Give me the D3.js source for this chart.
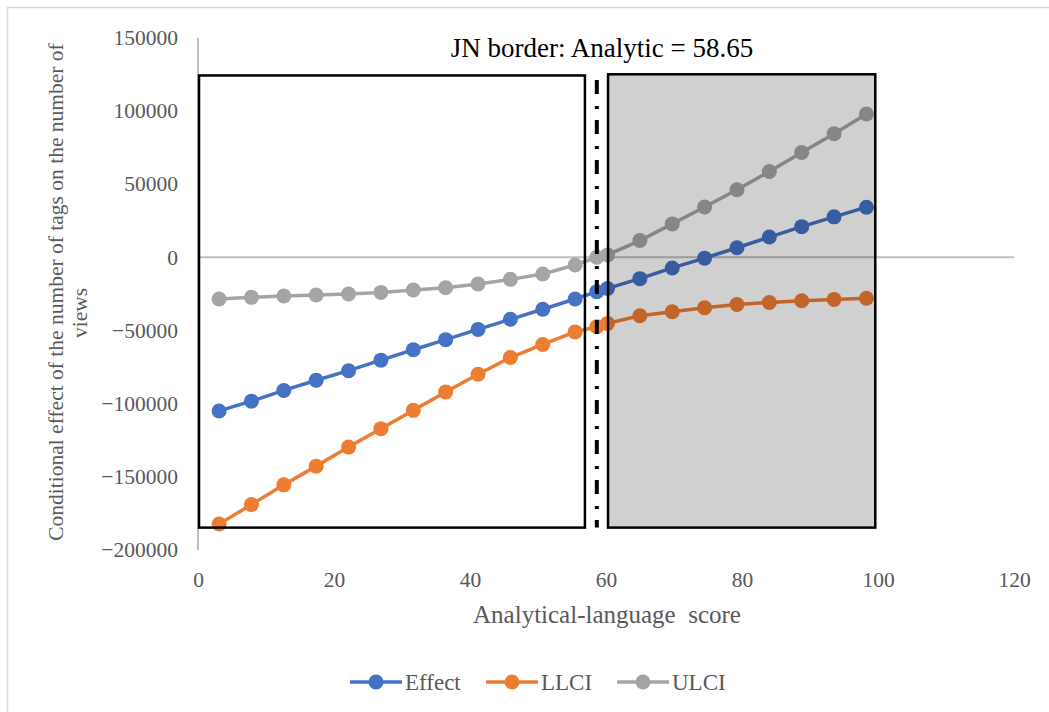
<!DOCTYPE html>
<html lang="en">
<head>
<meta charset="utf-8">
<title>JN border chart</title>
<script src="https://cdn.jsdelivr.net/npm/d3@7"></script>
<style>
  body { margin: 0; background: #fff; }
  svg text { font-family: "Liberation Serif", "DejaVu Serif", serif; }
</style>
</head>
<body>
<script>
  var w = 1049;
  var h = 712;

  // analytical-language score (x) for each estimate, JN point included
  var scores = [3.10, 7.86, 12.62, 17.38, 22.14, 26.90, 31.66, 36.42, 41.18, 45.94, 50.70, 55.46,
                58.65, 60.22, 64.98, 69.74, 74.50, 79.26, 84.02, 88.78, 93.54, 98.30];
  var effect = [-105000, -98300, -91000, -84000, -77500, -70300, -63200, -56300, -49300, -42400, -35500, -28500,
                -23500, -21300, -14600, -7300, -600, 6500, 13800, 20900, 27600, 34200];
  var llci = [-182200, -169000, -155500, -142700, -129700, -117100, -104600, -92000, -79900, -68500, -59600, -51000,
              -47500, -45200, -40000, -37200, -34500, -32300, -30900, -29700, -28800, -28000];
  var ulci = [-28500, -27400, -26500, -25800, -25100, -24000, -22400, -20800, -18300, -15100, -11400, -5300,
              0, 1600, 11400, 22800, 34300, 46100, 58600, 71600, 84400, 97900];

  var seriesNames = ["Effect", "LLCI", "ULCI"];
  var seriesColors = ["#4472C4", "#ED7D31", "#A5A5A5"];

  var xTicks = [0, 20, 40, 60, 80, 100, 120];
  var yTicks = [-200000, -150000, -100000, -50000, 0, 50000, 100000, 150000];

  var jnValue = 58.65;
  // hand-drawn boxes either side of the JN border (data units)
  var leftBox = { x0: 0.15, x1: 56.9, y0: -184700, y1: 124200 };
  var rightBox = { x0: 60.3, x1: 99.6, y0: -184700, y1: 125000 };
  var jnSpan = [-184700, 121100];

  var serif = "Liberation Serif";

  var svg = d3.select("body").append("svg")
      .attr("width", w)
      .attr("height", h);

  svg.append("rect")
     .attr("width", w).attr("height", h)
     .attr("fill", "#fff");

  // outer chart frame
  svg.append("rect")
     .attr("x", 7.5).attr("y", 7.5)
     .attr("width", 1100).attr("height", 800)
     .attr("fill", "none")
     .attr("stroke", "#d9d9d9")
     .attr("stroke-width", 1.5);

  var x = d3.scaleLinear().domain([0, 120]).range([198, 1014]);
  var y = d3.scaleLinear().domain([-200000, 150000]).range([550, 37.7]);

  // axes: labels only, lines drawn by hand like Excel
  var yAxis = svg.append("g")
      .attr("transform", "translate(198,0)")
      .call(d3.axisLeft(y).tickValues(yTicks).tickSize(0).tickPadding(20).tickFormat(d3.format("d")))
      .attr("font-family", serif)
      .attr("font-size", 21.5);
  yAxis.select(".domain").remove();
  yAxis.selectAll("text").attr("fill", "#595959");

  var xAxis = svg.append("g")
      .attr("transform", "translate(0,550)")
      .call(d3.axisBottom(x).tickValues(xTicks).tickSize(0).tickPadding(22))
      .attr("font-family", serif)
      .attr("font-size", 21.5);
  xAxis.select(".domain").remove();
  xAxis.selectAll("text").attr("fill", "#595959");

  svg.append("line")
     .attr("x1", x(0)).attr("x2", x(0))
     .attr("y1", y(150000)).attr("y2", y(-200000))
     .attr("stroke", "#bfbfbf").attr("stroke-width", 2);

  svg.append("line")
     .attr("x1", x(0)).attr("x2", x(120))
     .attr("y1", y(0)).attr("y2", y(0))
     .attr("stroke", "#bfbfbf").attr("stroke-width", 2);

  // series
  var allSeries = [effect, llci, ulci];
  var line = d3.line()
      .x(function(d) { return x(d[0]); })
      .y(function(d) { return y(d[1]); });

  allSeries.forEach(function(vals, s) {
    var pts = scores.map(function(sc, i) { return [sc, vals[i]]; });
    var g = svg.append("g").attr("class", "series-" + seriesNames[s]);
    g.append("path")
     .attr("d", line(pts))
     .attr("fill", "none")
     .attr("stroke", seriesColors[s])
     .attr("stroke-width", 3.5)
     .attr("stroke-linejoin", "round");
    g.selectAll("circle")
     .data(pts)
     .enter()
     .append("circle")
     .attr("cx", function(d) { return x(d[0]); })
     .attr("cy", function(d) { return y(d[1]); })
     .attr("r", 7.5)
     .attr("fill", seriesColors[s]);
  });

  // shaded significance region (semi-transparent over the lines)
  svg.append("rect")
     .attr("x", x(rightBox.x0)).attr("y", y(rightBox.y1))
     .attr("width", x(rightBox.x1) - x(rightBox.x0))
     .attr("height", y(rightBox.y0) - y(rightBox.y1))
     .attr("fill", "#000")
     .attr("fill-opacity", 0.185)
     .attr("stroke", "#000")
     .attr("stroke-width", 2.5);

  svg.append("rect")
     .attr("x", x(leftBox.x0)).attr("y", y(leftBox.y1))
     .attr("width", x(leftBox.x1) - x(leftBox.x0))
     .attr("height", y(leftBox.y0) - y(leftBox.y1))
     .attr("fill", "none")
     .attr("stroke", "#000")
     .attr("stroke-width", 2.5);

  // JN border line
  svg.append("line")
     .attr("x1", x(jnValue)).attr("x2", x(jnValue))
     .attr("y1", y(jnSpan[1])).attr("y2", y(jnSpan[0]))
     .attr("stroke", "#000")
     .attr("stroke-width", 4)
     .attr("stroke-dasharray", "14,12,3,11");

  svg.append("text")
     .attr("x", 602).attr("y", 57)
     .attr("text-anchor", "middle")
     .attr("fill", "#000")
     .attr("font-family", serif)
     .attr("font-size", 27)
     .text("JN border: Analytic = " + jnValue);

  // axis titles
  svg.append("text")
     .attr("x", 607).attr("y", 623)
     .attr("text-anchor", "middle")
     .attr("fill", "#595959")
     .attr("font-family", serif)
     .attr("font-size", 25)
     .attr("xml:space", "preserve")
     .style("white-space", "pre")
     .text("Analytical-language  score");

  var yTitle = svg.append("text")
     .attr("transform", "translate(63,292) rotate(-90)")
     .attr("text-anchor", "middle")
     .attr("fill", "#595959")
     .attr("font-family", serif)
     .attr("font-size", 21.5);
  yTitle.append("tspan").attr("x", 0).attr("y", 0)
     .text("Conditional effect of the number of tags on the number of");
  yTitle.append("tspan").attr("x", -21).attr("y", 24)
     .text("views");

  // legend
  var legendX = [350, 486, 617];
  var legend = svg.selectAll(".legend")
      .data(seriesNames)
      .enter()
      .append("g")
      .attr("class", "legend")
      .attr("transform", function(d, i) { return "translate(" + legendX[i] + ",682)"; });
  legend.append("line")
        .attr("x1", 0).attr("x2", 52)
        .attr("stroke", function(d, i) { return seriesColors[i]; })
        .attr("stroke-width", 3.5);
  legend.append("circle")
        .attr("cx", 26).attr("r", 7.5)
        .attr("fill", function(d, i) { return seriesColors[i]; });
  legend.append("text")
        .attr("x", 55).attr("dy", "0.35em")
        .attr("fill", "#595959")
        .attr("font-family", serif)
        .attr("font-size", 23)
        .text(function(d) { return d; });
</script>
</body>
</html>
